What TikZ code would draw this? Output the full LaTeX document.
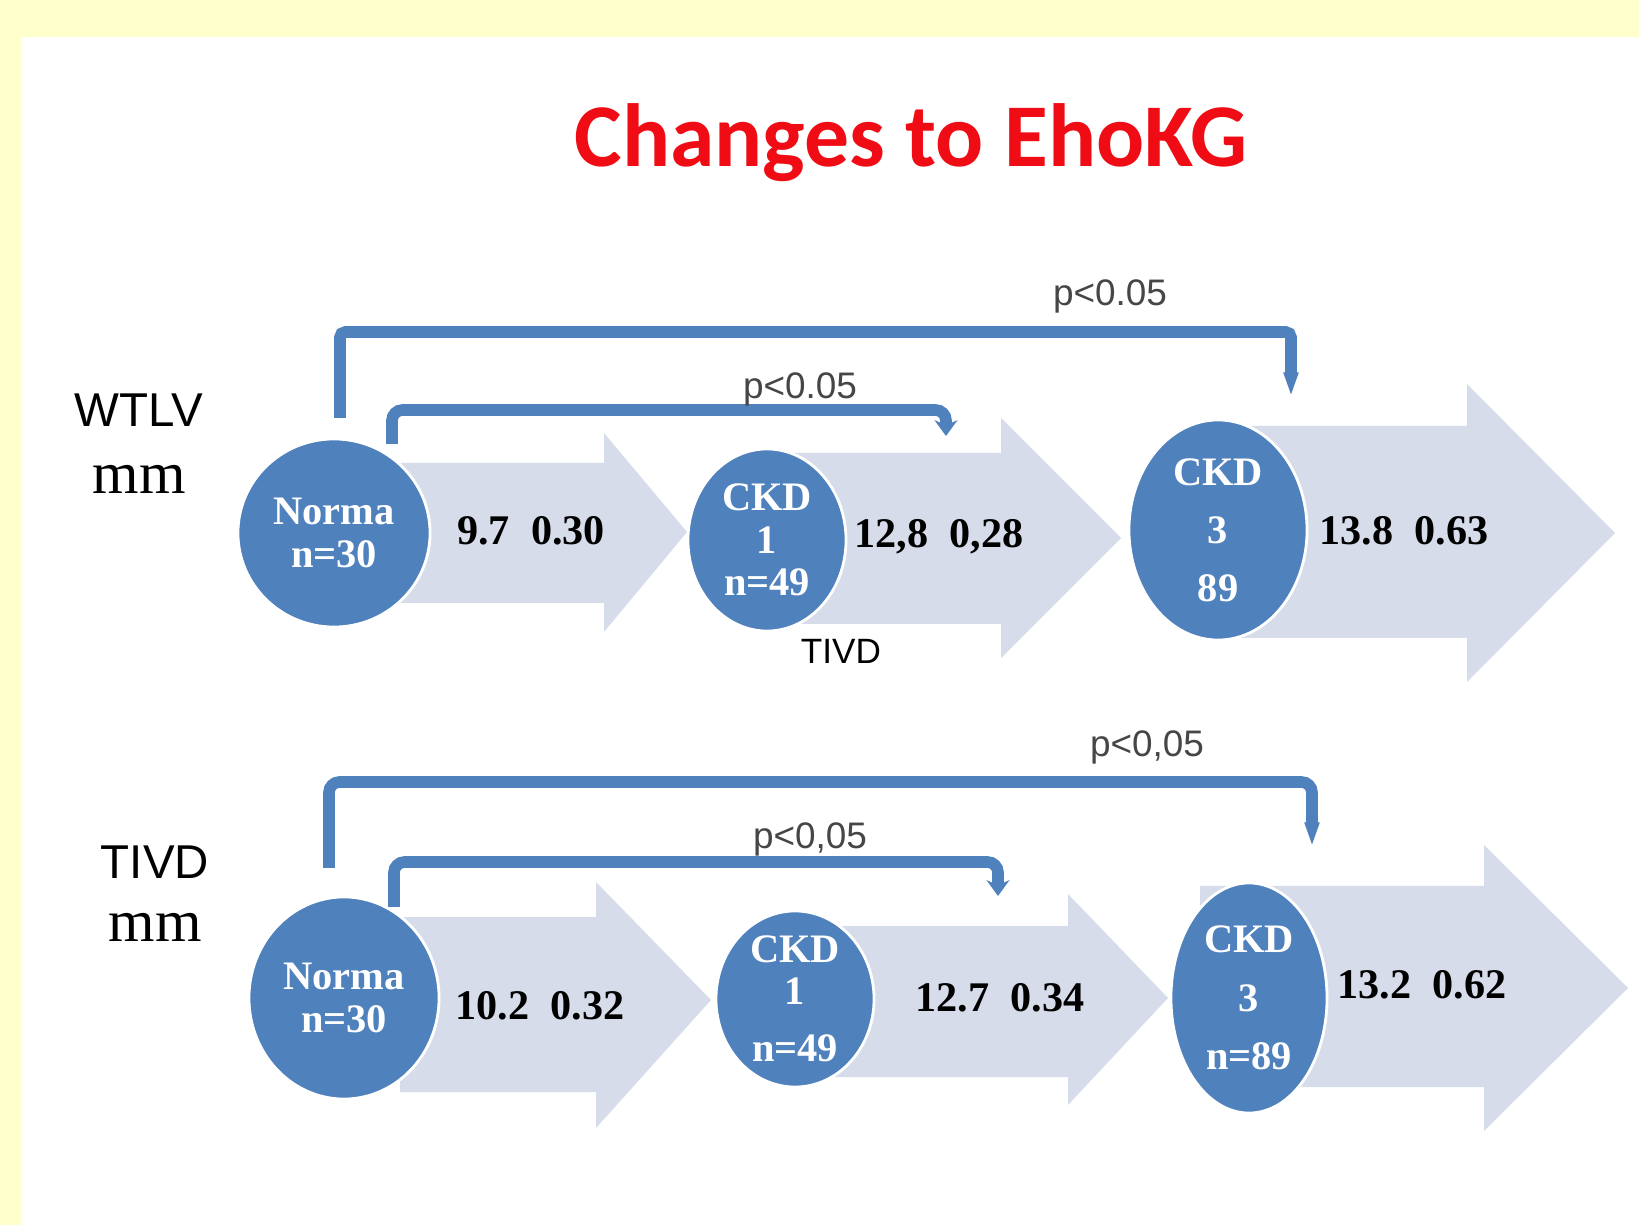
\documentclass[tikz,border=0pt]{standalone}
\usepackage{fontspec}
\setmainfont{Liberation Serif}
\setsansfont{Liberation Sans}
\newfontfamily\titlefont{Carlito}
\usetikzlibrary{arrows.meta,shapes.geometric}
\definecolor{slideyellow}{RGB}{255,255,204}
\definecolor{ckdblue}{RGB}{79,129,189}
\definecolor{flowgray}{RGB}{214,220,233}
\definecolor{titlered}{RGB}{240,12,20}
\definecolor{plabel}{RGB}{70,70,70}

\begin{document}
\begin{tikzpicture}[x=0.01cm,y=-0.01cm,>=Stealth]
\tikzset{
  stage/.style={ellipse,fill=ckdblue,draw=white,line width=0.8pt,inner sep=-3pt,
    text=white,align=center,font=\bfseries\fontsize{11.5}{12}\selectfont},
  val/.style={font=\bfseries\fontsize{12}{13}\selectfont},
  axis/.style={font=\sffamily\fontsize{13.5}{14}\selectfont},
  unit/.style={font=\fontsize{17}{18}\selectfont},
  pval/.style={text=plabel,font=\sffamily\fontsize{10.5}{11}\selectfont},
  brk/.style={line width=3.3pt,draw=ckdblue,rounded corners=3pt},
  outtip/.style={-{Triangle[width=3.8pt,length=7pt]}},
  intip/.style={-{Stealth[width=6.5pt,length=4.5pt]}}}
% flow arrow: body x, body top, body bottom, head x, head top, head bottom, tip x, tip y
\newcommand{\flow}[8]{%
  \fill[flowgray] (#1,#2) -- (#4,#2) -- (#4,#5) -- (#7,#8) -- (#4,#6) -- (#4,#3) -- (#1,#3) -- cycle;}
% ---------- slide ----------
\useasboundingbox (0,0) rectangle (1639,1225);
\fill[slideyellow] (0,0) rectangle (1639,1225);
\fill[white] (21,37) rectangle (1639,1225);
\node[font=\titlefont\bfseries\fontsize{25.5}{30}\selectfont,text=titlered] (title) at (911,143) {Changes to EhoKG};
% ---------- WTLV ----------
\node[axis] (wName) at (139,410) {WTLV};
\node[unit] (wUnit) at (139,479) {mm};
\flow{380}{463}{603}{604}{433}{632}{687}{532}
\flow{790}{453}{624}{1001}{418}{658}{1121}{538}
\flow{1220}{426}{638}{1467}{384}{682}{1615}{533}
\node[stage,minimum width=1.92cm,minimum height=1.88cm] (wNorm) at (334,533) {Norma\\n=30};
\node[stage,minimum width=1.58cm,minimum height=1.82cm] (wCkdI) at (767,540) {CKD\\1\\n=49};
\node[stage,minimum width=1.78cm,minimum height=2.20cm] (wCkdIII) at (1218,530) {CKD\\[4.5pt]3\\[4.5pt]89};
\node[val] (wValA) at (531,531) {9.7\enspace 0.30};
\node[val] (wValB) at (939,537) {12,8\enspace 0,28};
\node[val] (wValC) at (1404,531) {13.8\enspace 0.63};
\node[pval,font=\sffamily\fontsize{10}{11}\selectfont,text=black] (wNote) at (841,651) {TIVD};
\coordinate (wOutA) at (340,418);
\coordinate (wOutB) at (1291,397);
\coordinate (wInA) at (392,444);
\coordinate (wInB) at (946,436);
\draw[brk,rounded corners=1.5pt,outtip] (wOutA) -- ++(0,-86) -| (wOutB);
\draw[brk,intip] (wInA) -- ++(0,-34) -| (wInB);
\node[pval] (wPOut) at (1110,296) {p<0.05};
\node[pval] (wPIn) at (800,389) {p<0.05};
% ---------- TIVD ----------
\node[axis] (tName) at (155,862) {TIVD};
\node[unit] (tUnit) at (155,927) {mm};
\flow{400}{917}{1092}{596}{882}{1128}{711}{1000}
\flow{820}{926}{1077}{1068}{894}{1105}{1168}{998}
\flow{1200}{886}{1087}{1484}{845}{1131}{1628}{988}
\node[stage,minimum width=1.90cm,minimum height=2.02cm] (tNorm) at (344,998) {Norma\\n=30};
\node[stage,minimum width=1.58cm,minimum height=1.76cm] (tCkdI) at (795,999) {CKD\\1\\[4.3pt]n=49};
\node[stage,minimum width=1.56cm,minimum height=2.30cm] (tCkdIII) at (1249,998) {CKD\\[4.7pt]3\\[4.7pt]n=89};
\node[val] (tValA) at (540,1006) {10.2\enspace 0.32};
\node[val] (tValB) at (1000,998) {12.7\enspace 0.34};
\node[val] (tValC) at (1422,985) {13.2\enspace 0.62};
\coordinate (tOutA) at (329,868);
\coordinate (tOutB) at (1312,847);
\coordinate (tInA) at (394,907);
\coordinate (tInB) at (998,896);
\draw[brk,outtip] (tOutA) -- ++(0,-86) -| (tOutB);
\draw[brk,intip] (tInA) -- ++(0,-45) -| (tInB);
\node[pval] (tPOut) at (1147,747) {p<0,05};
\node[pval] (tPIn) at (810,839) {p<0,05};
\end{tikzpicture}
\end{document}
